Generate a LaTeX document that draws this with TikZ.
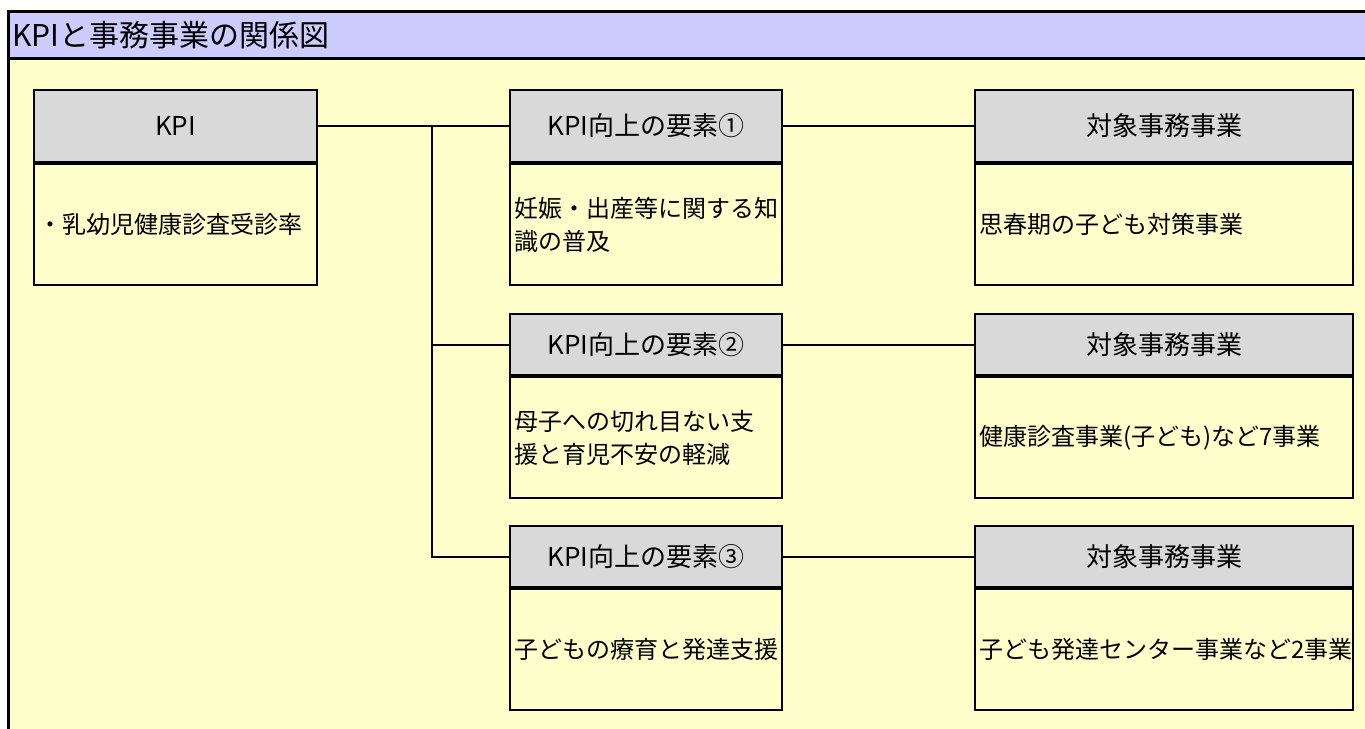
\documentclass[tikz,border=0pt]{standalone}
\usepackage{fontspec}
\setmainfont{Noto Sans CJK JP}
\definecolor{bandblue}{HTML}{CCCCFF}
\definecolor{paleyellow}{HTML}{FFFFCC}
\definecolor{hdrgray}{HTML}{D9D9D9}
\tikzset{
  hdrbox/.style={draw, line width=2.2pt, fill=hdrgray, anchor=north west, inner sep=0pt,
    font=\fontsize{26}{30}\selectfont},
  bodybox/.style={draw, line width=2.2pt, fill=paleyellow, anchor=north west, inner xsep=4pt, inner ysep=0pt,
    minimum height=121pt, align=left, font=\fontsize{24}{33}\selectfont},
  link/.style={draw, line width=2.2pt},
  frameline/.style={line width=3pt}
}
\begin{document}
\begin{tikzpicture}[x=1pt,y=-1pt]
\useasboundingbox (0,0) rectangle (1365,728);
\clip (0,0) rectangle (1365,728);
% frame
\fill[paleyellow] (8.5,58) rectangle (1400,800);
\fill[bandblue] (8.5,11) rectangle (1400,58);
\draw[frameline] (8.5,800) -- (8.5,11) -- (1400,11);
\draw[frameline] (8.5,58) -- (1400,58);
\node[anchor=west, inner sep=0pt, font=\fontsize{30}{34}\selectfont] (title) at (12,35) {KPIと事務事業の関係図};
% KPI
\node[hdrbox, minimum width=283pt, minimum height=72pt] (kpih) at (33,89) {KPI};
\node[bodybox, text width=275pt] (kpib) at (kpih.south west) {・乳幼児健康診査受診率};
% elements
\node[hdrbox, minimum width=272pt, minimum height=72pt] (e1h) at (509,89) {KPI向上の要素①};
\node[bodybox, text width=264pt] (e1b) at (e1h.south west) {妊娠・出産等に関する知\\識の普及};
\node[hdrbox, minimum width=272pt, minimum height=61pt] (e2h) at (509,313) {KPI向上の要素②};
\node[bodybox, text width=264pt] (e2b) at (e2h.south west) {母子への切れ目ない支\\援と育児不安の軽減};
\node[hdrbox, minimum width=272pt, minimum height=61pt] (e3h) at (509,525) {KPI向上の要素③};
\node[bodybox, text width=264pt] (e3b) at (e3h.south west) {子どもの療育と発達支援};
% targets
\node[hdrbox, minimum width=378pt, minimum height=72pt] (t1h) at (974,89) {対象事務事業};
\node[bodybox, text width=370pt] (t1b) at (t1h.south west) {思春期の子ども対策事業};
\node[hdrbox, minimum width=378pt, minimum height=61pt] (t2h) at (974,313) {対象事務事業};
\node[bodybox, text width=370pt] (t2b) at (t2h.south west) {健康診査事業(子ども)など7事業};
\node[hdrbox, minimum width=378pt, minimum height=61pt] (t3h) at (974,525) {対象事務事業};
\node[bodybox, text width=370pt] (t3b) at (t3h.south west) {子ども発達センター事業など2事業};
% connectors
\coordinate (jx) at (432,0);
\coordinate (j1) at (jx |- kpih.east);
\path[link] (kpih.east) -- (e1h.west);
\path[link] (j1) |- (e3h.west);
\path[link] (jx |- e2h.west) -- (e2h.west);
\path[link] (e1h.east) -- (t1h.west);
\path[link] (e2h.east) -- (t2h.west);
\path[link] (e3h.east) -- (t3h.west);
\end{tikzpicture}
\end{document}
